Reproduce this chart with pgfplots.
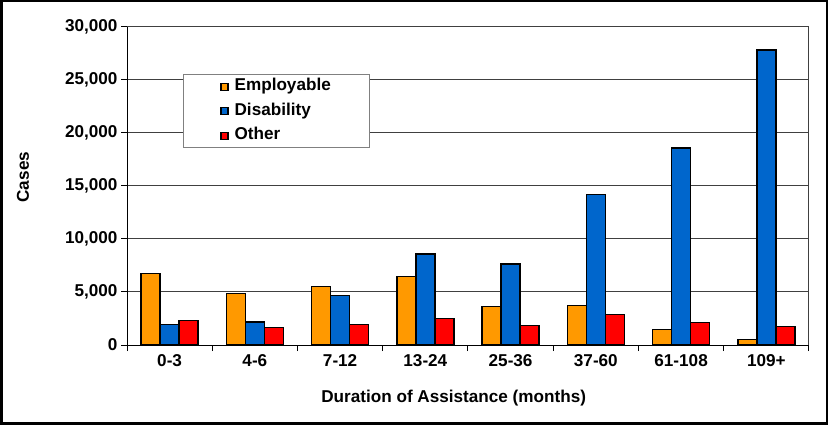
\documentclass[border=0pt]{standalone}
\usepackage{pgfplots}
\pgfplotsset{compat=1.18}
\usepackage{fontspec}
\setmainfont{Liberation Sans}
\definecolor{employ}{RGB}{255,153,0}
\definecolor{disab}{RGB}{0,102,204}
\definecolor{other}{RGB}{255,0,0}
\definecolor{gridc}{RGB}{64,64,64}
\begin{document}
\begin{tikzpicture}[font=\fontsize{17.2}{20.6}\selectfont\bfseries]
\useasboundingbox (0,0) rectangle (828bp,425bp);
\begin{axis}[
  at={(127bp,80bp)}, anchor=south west,
  scale only axis, width=682bp, height=318.5bp,
  ybar=0pt, bar width=19bp,
  xmin=-0.5, xmax=7.5, ymin=0, ymax=30000,
  xtick={0,...,7},
  xticklabels={0-3,4-6,7-12,13-24,25-36,37-60,61-108,109+},
  minor xtick={-0.5,0.5,...,7.5},
  ytick={0,5000,...,30000},
  scaled y ticks=false,
  /pgf/number format/.cd, 1000 sep={,}, assume math mode=true, /pgfplots/.cd,
  tick align=outside, tick pos=left,
  major tick length=6bp, minor tick length=6bp,
  major x tick style={draw=none},
  minor x tick style={draw=black, line width=1bp},
  major y tick style={draw=black, line width=1bp},
  ymajorgrids, grid style={gridc, line width=1bp},
  axis line style={gridc, line width=1bp},
  axis x line*=bottom,
  separate axis lines,
  x axis line style={black},
  tick label style={font=\fontsize{17.2}{20.6}\selectfont\bfseries},
  legend cell align=left,
  legend image code/.code={\draw[#1, line width=1.2bp] (0bp,-3.5bp) rectangle (7bp,3.5bp);},
  legend style={at={(rel axis cs:0.082,0.851)}, anchor=north west,
    draw=gray, line width=1bp, fill=white,
    inner xsep=37bp, inner ysep=0bp, column sep=4bp,
    nodes={inner xsep=2bp, inner ysep=4.5bp, text height=12bp, text depth=3.5bp,
      font=\fontsize{17.2}{20.6}\selectfont\bfseries}},
  clip=false,
]
\addplot[fill=employ, draw=black, line width=1.4bp] coordinates {
(0,6750) (1,4870) (2,5490) (3,6430) (4,3640) (5,3740) (6,1480) (7,540)};
\addplot[fill=disab, draw=black, line width=1.4bp] coordinates {
(0,1910) (1,2170) (2,4640) (3,8570) (4,7630) (5,14150) (6,18550) (7,27800)};
\addplot[fill=other, draw=black, line width=1.4bp] coordinates {
(0,2330) (1,1630) (2,1910) (3,2480) (4,1820) (5,2850) (6,2100) (7,1760)};
\legend{Employable,Disability,Other}
\draw[black, line width=1bp] (rel axis cs:0,0) -- (rel axis cs:0,1);
\draw[gridc, line width=1bp] (rel axis cs:1,0) -- (rel axis cs:1,1);
\draw[gridc, line width=1bp] (rel axis cs:0,1) -- (rel axis cs:1,1);
\node[rotate=90] at (rel axis cs:-0.1525,0.527) {Cases};
\node at (rel axis cs:0.479,-0.166) {Duration of Assistance (months)};
\end{axis}
\draw[black, line width=2.5bp] (1.25bp,1.25bp) rectangle (826.75bp,423.75bp);
\end{tikzpicture}
\end{document}
